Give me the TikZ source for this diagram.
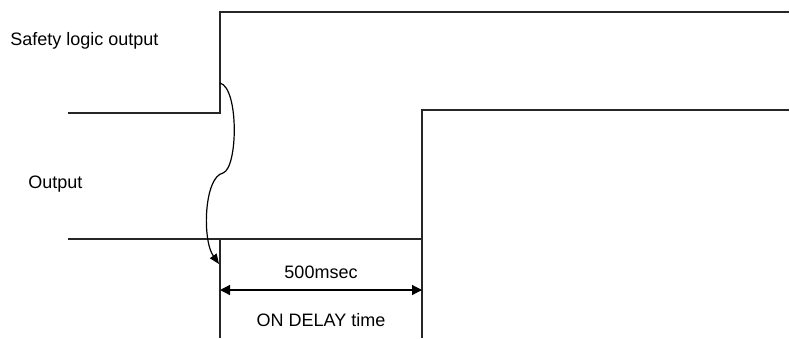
\documentclass[tikz,border=0pt]{standalone}
\usepackage{fontspec}
\setmainfont{Liberation Sans}
\usetikzlibrary{arrows.meta}
\begin{document}
\begin{tikzpicture}[x=0.5pt,y=-0.5pt,
  sig/.style={line width=0.6pt,draw=black!85},
  guide/.style={line width=0.6pt,draw=black!85},
  lbl/.style={font=\fontsize{9}{11}\selectfont,inner sep=0pt},
  dim/.style={line width=0.6pt,{Triangle[length=5pt,width=5pt]}-{Triangle[length=5pt,width=5pt]}},
  cue/.style={line width=0.6pt,-{Triangle[length=5pt,width=4pt]}}]
\useasboundingbox (0,0) rectangle (790,338);
% coordinates
\coordinate (s0) at (68,113);
\coordinate (s1) at (220,113);
\coordinate (s2) at (220,12);
\coordinate (s3) at (789,12);
\coordinate (o0) at (68,239);
\coordinate (o1) at (422,239);
\coordinate (o2) at (422,110);
\coordinate (o3) at (789,110);
\coordinate (g1t) at (220,239);
\coordinate (g1b) at (220,338);
\coordinate (g2b) at (422,338);
\coordinate (d1) at (220,290);
\coordinate (d2) at (422,290);
\coordinate (c0) at (220,83);
\coordinate (ck) at (223,173);
\coordinate (c1) at (219,264);
% signals
\draw[sig] (s0) -- (s1) -- (s2) -- (s3);
\draw[sig] (o0) -- (o1) -- (o2) -- (o3);
% guides
\draw[guide] (g1t) -- (g1b);
\draw[guide] (o1) -- (g2b);
% dimension
\draw[dim] (d1) -- (d2);
% cause arrow
\draw[cue] (c0) .. controls (239,88) and (238,168) .. (ck)
  .. controls (204,177) and (202,240) .. (c1);
% labels
\node[lbl,anchor=west] (l1) at (10,41) {Safety logic output};
\node[lbl,anchor=west] (l2) at (28,184) {Output};
\node[lbl] (l3) at (321,272) {500msec};
\node[lbl] (l4) at (321,320) {ON DELAY time};
\end{tikzpicture}
\end{document}
